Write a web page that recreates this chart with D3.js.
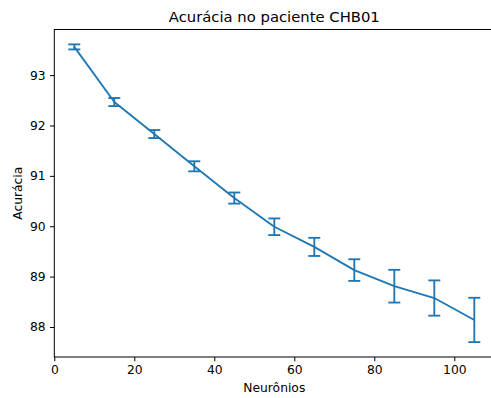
<!DOCTYPE html>
<html>
<head>
<meta charset="utf-8">
<script src="https://cdn.jsdelivr.net/npm/d3@7"></script>
<style>
    body { margin: 0; background: white; }
    text { font-family: "DejaVu Sans", sans-serif; fill: #000; }
</style>
</head>
<body>
<svg id="chart" width="491" height="398"></svg>
<script>
    // values
    const neurons = [5, 15, 25, 35, 45, 55, 65, 75, 85, 95, 105];
    const accuracy = [93.56, 92.465, 91.83, 91.19, 90.56, 89.99, 89.59, 89.13, 88.81, 88.575, 88.14];
    const errors = [0.05, 0.08, 0.08, 0.1, 0.11, 0.165, 0.18, 0.215, 0.325, 0.35, 0.44];
    const xTicks = [0, 20, 40, 60, 80, 100];
    const yTicks = [88, 89, 90, 91, 92, 93];

    const color = "#1f77b4";
    const svg = d3.select("#chart");
    const axLeft = 54.3, axRight = 494.3, axTop = 29.5, axBottom = 357;

    // matplotlib style 5% margins
    function padded(lo, hi) {
        const m = (hi - lo) * 0.05;
        return [lo - m, hi + m];
    }
    const yLo = d3.min(accuracy, (d, i) => d - errors[i]);
    const yHi = d3.max(accuracy, (d, i) => d + errors[i]);

    var x = d3.scaleLinear().domain(padded(5, 105)).range([axLeft, axRight]);
    var y = d3.scaleLinear().domain(padded(yLo, yHi)).range([axBottom, axTop]);

    // axes frame
    svg.append("rect")
        .attr("x", axLeft).attr("y", axTop)
        .attr("width", axRight - axLeft).attr("height", axBottom - axTop)
        .attr("fill", "none").attr("stroke", "#000").attr("stroke-width", 1);

    const xAxis = svg.append("g")
        .attr("transform", "translate(0," + axBottom + ")")
        .call(d3.axisBottom(x).tickValues(xTicks).tickSize(4.3).tickPadding(4.3).tickFormat(d3.format("d")));
    const yAxis = svg.append("g")
        .attr("transform", "translate(" + axLeft + ",0)")
        .call(d3.axisLeft(y).tickValues(yTicks).tickSize(4.3).tickPadding(4.3).tickFormat(d3.format("d")));
    [xAxis, yAxis].forEach(function (a) {
        a.select(".domain").remove();
        a.selectAll("line").attr("stroke", "#000").attr("stroke-width", 1);
        a.selectAll("text").style("font-family", "DejaVu Sans").style("font-size", "12.3px").attr("fill", "#000");
    });

    // error bars
    const bars = svg.append("g").attr("stroke", color).attr("stroke-width", 1.85).attr("fill", "none");
    neurons.forEach(function (n, i) {
        const cx = x(n), y1 = y(accuracy[i] - errors[i]), y2 = y(accuracy[i] + errors[i]);
        bars.append("line").attr("x1", cx).attr("x2", cx).attr("y1", y1).attr("y2", y2);
        bars.append("line").attr("x1", cx - 6).attr("x2", cx + 6).attr("y1", y1).attr("y2", y1);
        bars.append("line").attr("x1", cx - 6).attr("x2", cx + 6).attr("y1", y2).attr("y2", y2);
    });

    // main line
    const line = d3.line().x((d, i) => x(neurons[i])).y(d => y(d));
    svg.append("path")
        .datum(accuracy)
        .attr("d", line)
        .attr("fill", "none")
        .attr("stroke", color)
        .attr("stroke-width", 1.85)
        .attr("stroke-linejoin", "round");

    // titles
    svg.append("text")
        .attr("x", (axLeft + axRight) / 2).attr("y", 22)
        .attr("text-anchor", "middle")
        .style("font-size", "14.8px")
        .text("Acurácia no paciente CHB01");

    svg.append("text")
        .attr("x", (axLeft + axRight) / 2).attr("y", 392)
        .attr("text-anchor", "middle")
        .style("font-size", "12.3px")
        .text("Neurônios");

    svg.append("text")
        .attr("transform", "translate(22," + ((axTop + axBottom) / 2) + ") rotate(-90)")
        .attr("text-anchor", "middle")
        .style("font-size", "12.3px")
        .text("Acurácia");
</script>
</body>
</html>
